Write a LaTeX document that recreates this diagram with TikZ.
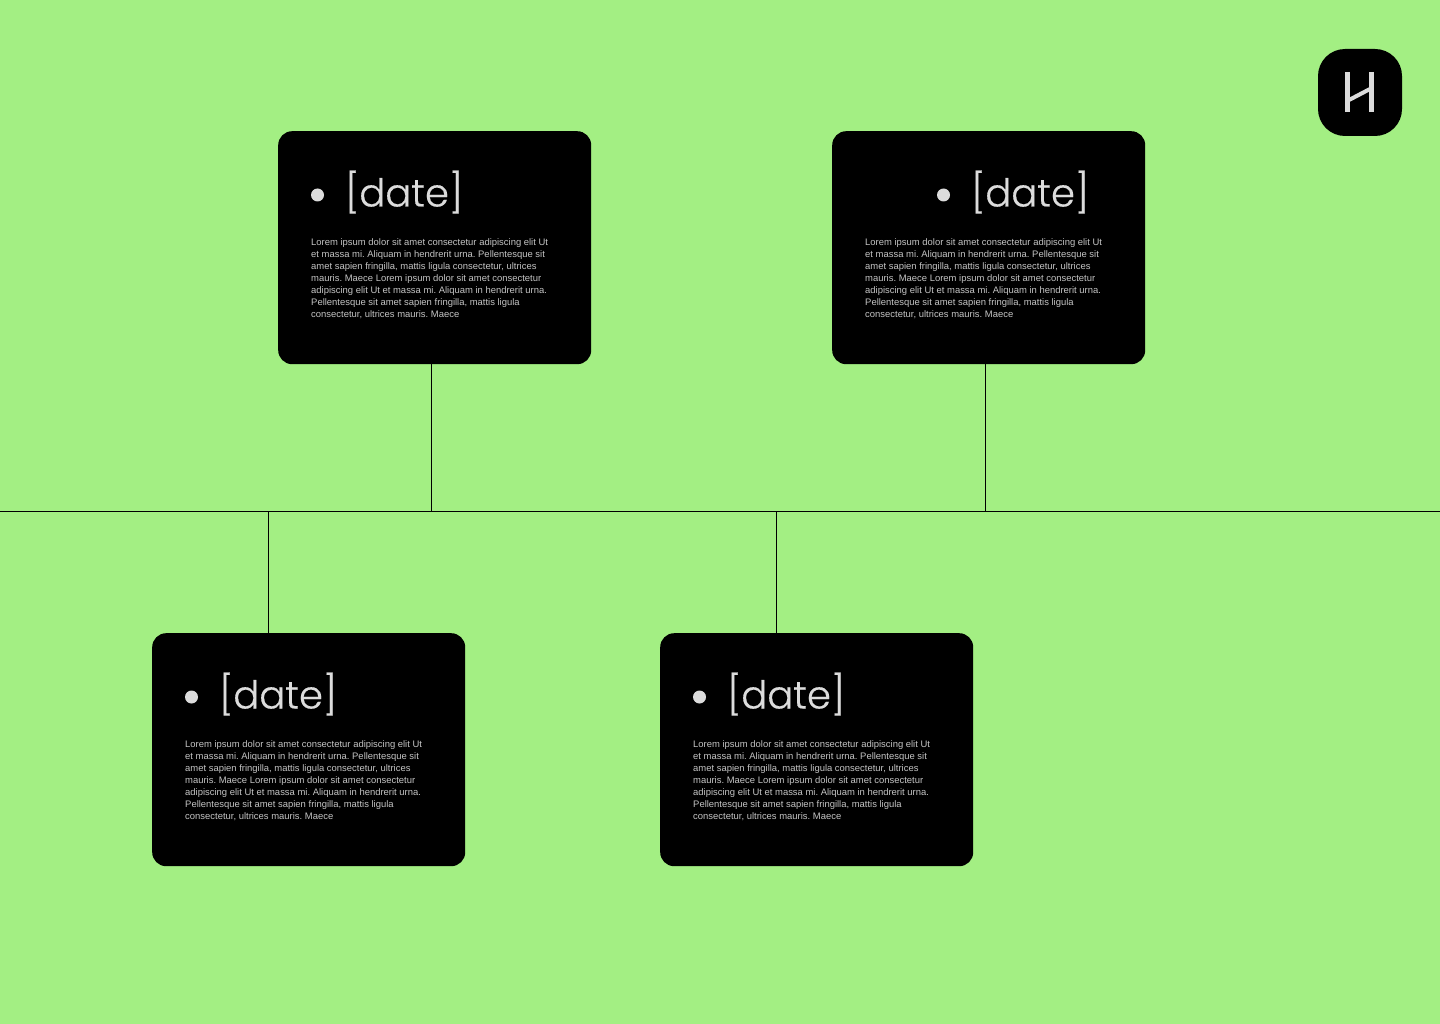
\documentclass[tikz,border=0pt]{standalone}
\usepackage{fontspec}
\setmainfont{Liberation Sans}
\newfontfamily\datefont[FakeBold=0.35]{Poppins Light}
\definecolor{bggreen}{HTML}{A3EF83}
\definecolor{paper}{HTML}{DCDCDC}
\definecolor{bodygrey}{HTML}{C4C4C4}
\frenchspacing
\newcommand{\loremtext}{Lorem ipsum dolor sit amet consectetur adipiscing elit Ut\\
et massa mi. Aliquam in hendrerit urna. Pellentesque sit\\
amet sapien fringilla, mattis ligula consectetur, ultrices\\
mauris. Maece Lorem ipsum dolor sit amet consectetur\\
adipiscing elit Ut et massa mi. Aliquam in hendrerit urna.\\
Pellentesque sit amet sapien fringilla, mattis ligula\\
consectetur, ultrices mauris. Maece}
\tikzset{
  card/.style={fill=black,draw=none,rounded corners=14pt,minimum width=313pt,minimum height=233pt,inner sep=0pt,anchor=north west},
  bulletdot/.style={circle,fill=paper,draw=none,minimum size=13pt,inner sep=0pt},
  datelabel/.style={text=paper,font=\datefont\fontsize{38.5pt}{42pt}\selectfont,anchor=base west,inner sep=0pt},
  bodytext/.style={text=bodygrey,font=\fontsize{9.45pt}{12pt}\selectfont\frenchspacing,align=left,anchor=north west,inner sep=0pt},
  wire/.style={draw=black,line width=1pt},
  logostroke/.style={draw=paper,line width=5pt,line cap=butt},
}
\begin{document}
\begin{tikzpicture}[x=1pt,y=-1pt]
\useasboundingbox (0,0) rectangle (1440,1024);
\fill[bggreen] (0,0) rectangle (1440,1024);
% axis
\coordinate (axisL) at (0,511.5);
\coordinate (axisR) at (1440,511.5);
\draw[wire] (axisL) -- (axisR);
% cards
\node[card] (card1) at (278,131) {};
\node[card] (card2) at (832,131) {};
\node[card] (card3) at (152,633) {};
\node[card] (card4) at (660,633) {};
% connectors
\coordinate (j1) at (431.5,511.5);
\coordinate (j2) at (985.5,511.5);
\coordinate (j3) at (268.5,511.5);
\coordinate (j4) at (776.5,511.5);
\draw[wire] (j1 |- card1.south) -- (j1);
\draw[wire] (j2 |- card2.south) -- (j2);
\draw[wire] (j3) -- (j3 |- card3.north);
\draw[wire] (j4) -- (j4 |- card4.north);
% card contents
\node[bulletdot] (dot1) at (317.5,195) {};
\node[datelabel] (date1) at (345,206.5) {[date]};
\node[bodytext] (body1) at (311,238) {\loremtext};
\node[bulletdot] (dot2) at (943.5,195) {};
\node[datelabel] (date2) at (971,206.5) {[date]};
\node[bodytext] (body2) at (865,238) {\loremtext};
\node[bulletdot] (dot3) at (191.5,697) {};
\node[datelabel] (date3) at (219,708.5) {[date]};
\node[bodytext] (body3) at (185,740) {\loremtext};
\node[bulletdot] (dot4) at (699.5,697) {};
\node[datelabel] (date4) at (727,708.5) {[date]};
\node[bodytext] (body4) at (693,740) {\loremtext};
% logo
\fill[black,rounded corners=27pt] (1318,49) rectangle (1402,136);
\draw[logostroke] (1347.5,72) -- (1347.5,112);
\draw[logostroke] (1371.5,72) -- (1371.5,112);
\draw[draw=paper,line width=4pt] (1349,100) -- (1370,89);
\end{tikzpicture}
\end{document}
